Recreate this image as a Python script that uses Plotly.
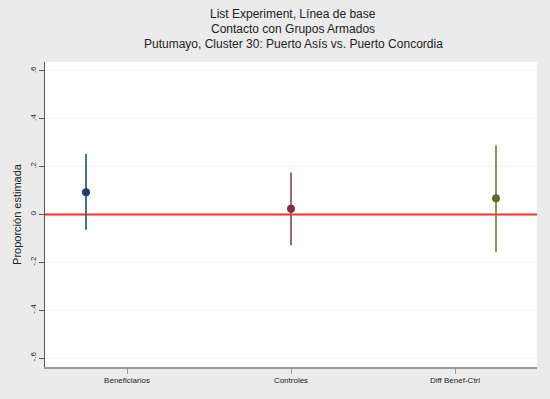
import plotly.graph_objects as go

categories = ["Beneficiarios", "Controles", "Diff Benef-Ctrl"]
cat_pos = [1, 2, 3]
tick_pos = [1.2, 2.0, 2.8]
estimates = [0.093, 0.024, 0.068]
ci_low = [-0.064, -0.129, -0.157]
ci_high = [0.253, 0.176, 0.288]
marker_colors = ["#1a3f6a", "#8a2b3b", "#5d6b30"]
line_colors = ["#35618a", "#9a5566", "#7a8848"]
ytick_vals = [-0.6, -0.4, -0.2, 0, 0.2, 0.4, 0.6]
ytick_text = ["-.6", "-.4", "-.2", "0", ".2", ".4", ".6"]
title_lines = ["List Experiment, Línea de base",
               "Contacto con Grupos Armados",
               "Putumayo, Cluster 30: Puerto Asís vs. Puerto Concordia"]

W, H = 550, 399
M = dict(l=45, r=13, t=62, b=32)
plot_h = H - M["t"] - M["b"]

fig = go.Figure()

# zero reference line
fig.add_trace(go.Scatter(x=[0.8, 3.2], y=[0, 0], mode="lines",
                         line=dict(color="#ff2a2a", width=2), showlegend=False, hoverinfo="skip"))

for i in range(len(categories)):
    fig.add_trace(go.Scatter(x=[cat_pos[i], cat_pos[i]], y=[ci_low[i], ci_high[i]], mode="lines",
                             line=dict(color=line_colors[i], width=1.8), showlegend=False))
    fig.add_trace(go.Scatter(x=[cat_pos[i]], y=[estimates[i]], mode="markers",
                             marker=dict(color=marker_colors[i], size=8), showlegend=False))

title_px = [14, 29, 44]
annotations = []
for txt, py in zip(title_lines, title_px):
    annotations.append(dict(text=txt, xref="paper", yref="paper", x=0.505,
                            y=(H - M["b"] - py) / plot_h, xanchor="center", yanchor="middle",
                            showarrow=False, font=dict(size=12, color="#222222")))

fig.update_layout(
    width=W, height=H,
    paper_bgcolor="#ebebeb", plot_bgcolor="#ffffff",
    margin=M,
    font=dict(family="Liberation Sans, Arial, sans-serif", color="#222222"),
    annotations=annotations,
    xaxis=dict(range=[0.8, 3.2], tickvals=tick_pos, ticktext=categories,
               showgrid=False, zeroline=False, showline=True, linecolor="#999999", linewidth=1.5,
               ticks="outside", ticklen=5, tickcolor="#999999", tickfont=dict(size=8)),
    yaxis=dict(range=[-0.6375, 0.6375], tickvals=ytick_vals, ticktext=ytick_text, tickangle=-90,
               showgrid=True, gridcolor="#f0f0f0", gridwidth=1, zeroline=False,
               showline=True, linecolor="#555555", linewidth=1,
               ticks="outside", ticklen=5, tickcolor="#555555", tickfont=dict(size=8),
               title=dict(text="Proporción estimada", font=dict(size=11), standoff=4)),
)

fig.write_html("out.html", config={"displayModeBar": False},
               post_script="document.body.style.margin='0';")
